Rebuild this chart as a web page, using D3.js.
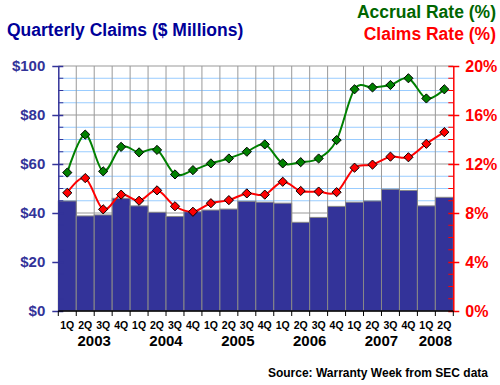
<!DOCTYPE html>
<html>
<head>
<meta charset="utf-8">
<script src="https://cdn.jsdelivr.net/npm/d3@7"></script>
<style>
  body { margin: 0; background: #fff; }
  svg { display: block; font-family: Arial, "Liberation Sans", sans-serif; font-weight: bold; }
</style>
</head>
<body>
<div id="chart"></div>
<script>
// quarters 1Q 2003 .. 2Q 2008
var quarters = ["1Q","2Q","3Q","4Q","1Q","2Q","3Q","4Q","1Q","2Q","3Q","4Q",
                "1Q","2Q","3Q","4Q","1Q","2Q","3Q","4Q","1Q","2Q"];
var years = ["2003","2004","2005","2006","2007","2008"];
var quartersPerYear = [4, 4, 4, 4, 4, 2];

// claims paid, $ millions
var claims = [44.9, 38.8, 39.2, 46.0, 42.9, 40.3, 38.6, 40.5, 41.2, 41.6, 44.8,
              44.4, 44.0, 36.2, 38.2, 42.7, 44.4, 44.9, 49.7, 49.2, 42.9, 46.4];
// rates, % of revenue
var accrualRate = [11.3, 14.4, 11.4, 13.4, 12.95, 13.15, 11.15, 11.5, 12.05, 12.45, 13.0,
                   13.6, 12.05, 12.15, 12.45, 13.95, 18.1, 18.25, 18.45, 19.0, 17.35, 18.1];
var claimsRate = [9.65, 10.85, 8.3, 9.5, 9.0, 9.85, 8.55, 8.1, 8.8, 9.05, 9.6,
                  9.5, 10.55, 9.8, 9.75, 9.7, 11.7, 11.95, 12.6, 12.55, 13.65, 14.6];

var leftTicks = [0, 20, 40, 60, 80, 100];
var rightTicks = [0, 4, 8, 12, 16, 20];

var W = 500, H = 385;
var m = { left: 58.3, right: 453.3, top: 66, bottom: 311 };

var svg = d3.select("#chart").append("svg").attr("width", W).attr("height", H);

var idx = d3.range(quarters.length);
var x = d3.scaleBand().domain(idx).range([m.left, m.right]).padding(0);
var yL = d3.scaleLinear().domain([0, 100]).range([m.bottom, m.top]);
var yR = d3.scaleLinear().domain([0, 20]).range([m.bottom, m.top]);

// minor horizontal grid
svg.append("g").selectAll("line").data(d3.range(5, 100, 5).filter(function(v){ return v % 20 !== 0; }))
  .join("line")
  .attr("x1", m.left).attr("x2", m.right)
  .attr("y1", function(d){ return yL(d); }).attr("y2", function(d){ return yL(d); })
  .attr("stroke", "#99ccff").attr("stroke-width", 1);

// major horizontal grid
svg.append("g").selectAll("line").data([20, 40, 60, 80, 100])
  .join("line")
  .attr("x1", m.left).attr("x2", m.right)
  .attr("y1", function(d){ return yL(d); }).attr("y2", function(d){ return yL(d); })
  .attr("stroke", "#999999").attr("stroke-width", 1);

// vertical grid at category boundaries
svg.append("g").selectAll("line").data(idx.slice(1))
  .join("line")
  .attr("x1", function(d){ return x(d); }).attr("x2", function(d){ return x(d); })
  .attr("y1", m.top).attr("y2", m.bottom)
  .attr("stroke", "#999999").attr("stroke-width", 1);

// bars
svg.append("g").selectAll("rect").data(claims)
  .join("rect")
  .attr("x", function(d, i){ return x(i); })
  .attr("y", function(d){ return yL(d); })
  .attr("width", x.bandwidth())
  .attr("height", function(d){ return m.bottom - yL(d); })
  .attr("fill", "#333399")
  .attr("stroke", "#888888").attr("stroke-width", 1);

// lines
var cx = function(i){ return x(i) + x.bandwidth() / 2; };
function drawSeries(data, color) {
  var line = d3.line()
    .x(function(d, i){ return cx(i); })
    .y(function(d){ return yR(d); })
    .curve(d3.curveCardinal.tension(0));
  svg.append("path").datum(data)
    .attr("d", line).attr("fill", "none")
    .attr("stroke", color).attr("stroke-width", 2);
  var s = 4.6;
  svg.append("g").selectAll("path").data(data)
    .join("path")
    .attr("d", function(d, i){
      var px = cx(i), py = yR(d);
      return "M" + px + "," + (py - s) + "L" + (px + s) + "," + py +
             "L" + px + "," + (py + s) + "L" + (px - s) + "," + py + "Z";
    })
    .attr("fill", color).attr("stroke", "#000").attr("stroke-width", 1);
}
drawSeries(accrualRate, "#008000");
drawSeries(claimsRate, "#ff0000");

// left axis
var gl = svg.append("g").attr("transform", "translate(" + m.left + ",0)");
gl.call(d3.axisLeft(yL).tickValues(leftTicks).tickSize(0).tickFormat(function(d){ return "$" + d; }));
gl.select(".domain").attr("stroke", "#333399").attr("stroke-width", 1.5);
gl.selectAll("text").attr("x", -13).attr("fill", "#333399")
  .style("font-size", "15px").style("font-family", "Arial, 'Liberation Sans', sans-serif").style("font-weight", "bold");
gl.selectAll(".tick").append("line").attr("x1", -6).attr("x2", 5).attr("stroke", "#333399").attr("stroke-width", 1.5);
gl.append("g").selectAll("line").data(d3.range(5, 100, 5).filter(function(v){ return v % 20 !== 0; }))
  .join("line").attr("x1", 0).attr("x2", 5)
  .attr("y1", function(d){ return yL(d); }).attr("y2", function(d){ return yL(d); })
  .attr("stroke", "#333399").attr("stroke-width", 1);

// right axis
var gr = svg.append("g").attr("transform", "translate(" + m.right + ",0)");
gr.call(d3.axisRight(yR).tickValues(rightTicks).tickSize(0).tickFormat(function(d){ return d + "%"; }));
gr.select(".domain").attr("stroke", "#ff0000").attr("stroke-width", 1.5);
gr.selectAll("text").attr("x", 12).attr("fill", "#ff0000")
  .style("font-size", "16px").style("font-family", "Arial, 'Liberation Sans', sans-serif").style("font-weight", "bold");
gr.selectAll(".tick").append("line").attr("x1", -5).attr("x2", 6).attr("stroke", "#ff0000").attr("stroke-width", 1.5);
gr.append("g").selectAll("line").data(d3.range(1, 20, 1).filter(function(v){ return v % 4 !== 0; }))
  .join("line").attr("x1", -5).attr("x2", 0)
  .attr("y1", function(d){ return yR(d); }).attr("y2", function(d){ return yR(d); })
  .attr("stroke", "#ff0000").attr("stroke-width", 1);

// bottom axis
svg.append("line").attr("x1", m.left).attr("x2", m.right)
  .attr("y1", m.bottom).attr("y2", m.bottom).attr("stroke", "#000").attr("stroke-width", 1.5);
svg.append("g").selectAll("line").data(d3.range(quarters.length + 1))
  .join("line")
  .attr("x1", function(d){ return m.left + d * x.step(); }).attr("x2", function(d){ return m.left + d * x.step(); })
  .attr("y1", m.bottom).attr("y2", m.bottom + 5)
  .attr("stroke", "#000").attr("stroke-width", 1);
svg.append("g").selectAll("text").data(quarters)
  .join("text")
  .attr("x", function(d, i){ return cx(i); }).attr("y", 329)
  .attr("text-anchor", "middle").attr("font-size", "10.5px").attr("fill", "#000")
  .text(function(d){ return d; });

var start = 0;
years.forEach(function(yr, j) {
  var n = quartersPerYear[j];
  var mid = m.left + (start + n / 2) * x.step();
  svg.append("text").attr("x", mid).attr("y", 346)
    .attr("text-anchor", "middle").attr("font-size", "15px").attr("fill", "#000").text(yr);
  start += n;
});

// titles
svg.append("text").attr("x", 7).attr("y", 35.5).attr("font-size", "17.5px").attr("fill", "#000099")
  .text("Quarterly Claims ($ Millions)");
svg.append("text").attr("x", 496).attr("y", 17.5).attr("text-anchor", "end").attr("font-size", "17.5px")
  .attr("fill", "#006600").text("Accrual Rate (%)");
svg.append("text").attr("x", 496).attr("y", 40).attr("text-anchor", "end").attr("font-size", "17.5px")
  .attr("fill", "#ff0000").text("Claims Rate (%)");
svg.append("text").attr("x", 488).attr("y", 377).attr("text-anchor", "end").attr("font-size", "12px")
  .attr("fill", "#000").text("Source: Warranty Week from SEC data");
</script>
</body>
</html>
